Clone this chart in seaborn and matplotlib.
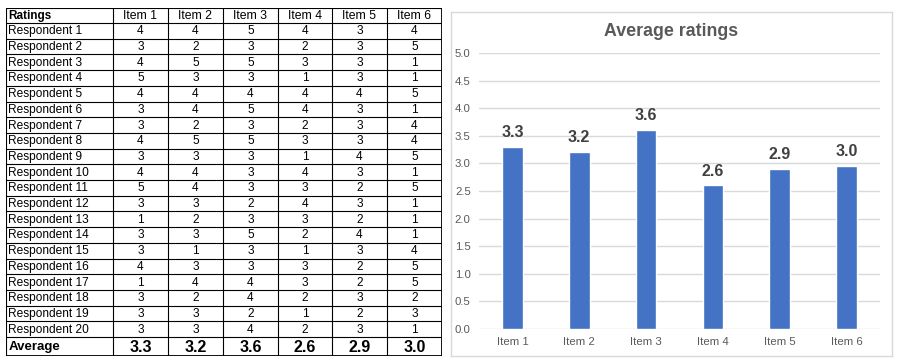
import numpy as np
import pandas as pd
import matplotlib
matplotlib.use("Agg")
import matplotlib.pyplot as plt
import seaborn as sns

items = ["Item 1", "Item 2", "Item 3", "Item 4", "Item 5", "Item 6"]
respondents = [f"Respondent {i}" for i in range(1, 21)]
item1 = [4, 3, 4, 5, 4, 3, 3, 4, 3, 4, 5, 3, 1, 3, 3, 4, 1, 3, 3, 3]
item2 = [4, 2, 5, 3, 4, 4, 2, 5, 3, 4, 4, 3, 2, 3, 1, 3, 4, 2, 3, 3]
item3 = [5, 3, 5, 3, 4, 5, 3, 5, 3, 3, 3, 2, 3, 5, 3, 3, 4, 4, 2, 4]
item4 = [4, 2, 3, 1, 4, 4, 2, 3, 1, 4, 3, 4, 3, 2, 1, 3, 3, 2, 1, 2]
item5 = [3, 3, 3, 3, 4, 3, 3, 3, 4, 3, 2, 3, 2, 4, 3, 2, 2, 3, 2, 3]
item6 = [4, 5, 1, 1, 5, 1, 4, 4, 5, 1, 5, 1, 1, 1, 4, 5, 5, 2, 3, 1]
avg_labels = ["3.3", "3.2", "3.6", "2.6", "2.9", "3.0"]
y_ticks = [0.0, 0.5, 1.0, 1.5, 2.0, 2.5, 3.0, 3.5, 4.0, 4.5, 5.0]

ratings = pd.DataFrame(dict(zip(items, [item1, item2, item3, item4, item5, item6])), index=respondents)
averages = ratings.mean()
df = pd.DataFrame({"item": items, "avg": averages.values})

sns.set_theme(style="white")
plt.rcParams["font.family"] = ["Liberation Sans", "DejaVu Sans"]

W, H = 904, 364
fig = plt.figure(figsize=(W / 100, H / 100), dpi=100)
fig.patch.set_facecolor("white")

def fx(px):
    return px / W

def fy(py):
    return 1 - py / H

# ---------------- Table ----------------
tx0, tx1, ty0, ty1 = 6, 442, 8, 356
tax = fig.add_axes([fx(tx0), fy(ty1), fx(tx1 - tx0), (ty1 - ty0) / H])
tax.set_xlim(tx0, tx1)
tax.set_ylim(ty1, ty0)
tax.axis("off")

col_edges = [6, 113, 168, 223, 278, 332, 387, 442]
header_bottom = 23
row_h = (337 - header_bottom) / 20
row_edges = [ty0, header_bottom] + [header_bottom + row_h * (i + 1) for i in range(20)] + [ty1]

for x in col_edges:
    tax.plot([x, x], [ty0, ty1], color="black", lw=0.8, solid_capstyle="butt")
for y in row_edges:
    tax.plot([tx0, tx1], [y, y], color="black", lw=0.8, solid_capstyle="butt")
tax.plot([tx0, tx1, tx1, tx0, tx0], [ty0, ty0, ty1, ty1, ty0], color="black", lw=1.3)

def cell_center(ci, ri):
    return (col_edges[ci] + col_edges[ci + 1]) / 2, (row_edges[ri] + row_edges[ri + 1]) / 2

_, yc = cell_center(0, 0)
tax.text(col_edges[0] + 2.5, yc + 0.5, "Ratings", ha="left", va="center", fontsize=8.5, fontweight="bold", color="black")
for j, it in enumerate(items):
    xc, yc = cell_center(j + 1, 0)
    tax.text(xc, yc + 0.5, it, ha="center", va="center", fontsize=8.8, color="black")

for i, r in enumerate(respondents):
    _, yc = cell_center(0, i + 1)
    tax.text(col_edges[0] + 2.5, yc + 0.5, r, ha="left", va="center", fontsize=8.6, color="black")
    for j, it in enumerate(items):
        xc, yc = cell_center(j + 1, i + 1)
        tax.text(xc, yc + 0.5, str(ratings.loc[r, it]), ha="center", va="center", fontsize=8.6, color="black")

_, yc = cell_center(0, 21)
tax.text(col_edges[0] + 2.5, yc + 0.5, "Average", ha="left", va="center", fontsize=9.5, fontweight="bold", color="black")
for j, lab in enumerate(avg_labels):
    xc, yc = cell_center(j + 1, 21)
    tax.text(xc, yc + 0.5, lab, ha="center", va="center", fontsize=11.5, fontweight="bold", color="black")

# ---------------- Chart panel ----------------
panel = fig.add_axes([fx(451), fy(356), fx(892 - 451), (356 - 12) / H])
panel.set_xticks([]); panel.set_yticks([])
for s in panel.spines.values():
    s.set_color("#d9d9d9"); s.set_linewidth(1.0)
panel.patch.set_alpha(0)

ax = fig.add_axes([fx(479), fy(329), fx(880 - 479), (329 - 53) / H])
ax.patch.set_alpha(0)
sns.barplot(data=df, x="item", y="avg", color="#4472C4", saturation=1, width=0.31, ax=ax, zorder=3)
ax.set_ylim(0, 5)
ax.set_xlim(-0.5, 5.5)
ax.set_yticks(y_ticks)
ax.set_yticklabels([f"{t:.1f}" for t in y_ticks])
ax.yaxis.grid(True, color="#d9d9d9", lw=1.0, zorder=0)
ax.set_axisbelow(True)
for s in ax.spines.values():
    s.set_visible(False)
ax.tick_params(axis="both", length=0, labelsize=8.2, colors="#595959")
ax.tick_params(axis="y", pad=6)
ax.tick_params(axis="x", pad=6)
ax.set_xlabel(""); ax.set_ylabel("")

for i, (v, lab) in enumerate(zip(df["avg"], avg_labels)):
    ax.annotate(lab, (i, v), xytext=(0, 5), textcoords="offset points", ha="center", va="bottom",
                fontsize=11.5, fontweight="bold", color="#404040")

fig.text(fx(671), fy(31), "Average ratings", ha="center", va="center", fontsize=12.8, fontweight="bold", color="#595959")

fig.savefig("out.png", dpi=100, facecolor="white")
